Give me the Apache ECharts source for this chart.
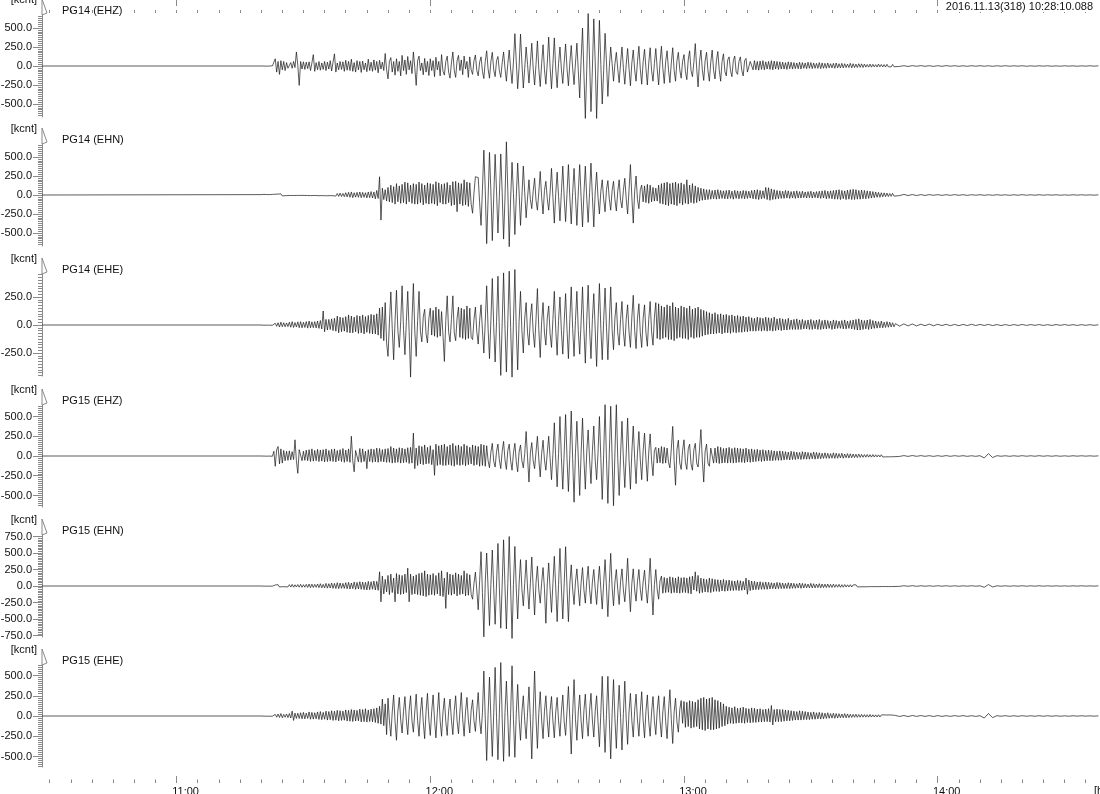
<!DOCTYPE html>
<html><head><meta charset="utf-8">
<script src="https://cdn.jsdelivr.net/npm/echarts@6/dist/echarts.min.js"></script>
<style>html,body{margin:0;padding:0;background:#fff}#c{width:1100px;height:794px}</style>
</head><body><div id="c"></div>
<script>
// ---------------- DATA ----------------
const stationNames = ['PG14 (EHZ)','PG14 (EHN)','PG14 (EHE)','PG15 (EHZ)','PG15 (EHN)','PG15 (EHE)'];
const headerText = '2016.11.13(318) 10:28:10.088';
const unitLabel = '[kcnt]';
const timeAxisName = '[hh:mm]';
const startTime = 37690.088;      // 10:28:10.088, seconds of day
const activeStart = 40800;        // 11:20:00
const activeStep = 20;            // s
const tailStart = 49800;          // 13:50:00
const tailStep = 60;              // s
const hourTicks = [39600, 43200, 46800, 50400];   // 11:00 .. 14:00
const yHalfRange = [671, 671, 455, 646, 773, 630];
const yLabels = [
  [-500,-250,0,250,500],
  [-500,-250,0,250,500],
  [-250,0,250],
  [-500,-250,0,250,500],
  [-750,-500,-250,0,250,500,750],
  [-500,-250,0,250,500]
];

// PG14 (EHZ)
const pg14zActive = [
 0,1,-1,2,-2,1,0,-1,2,3,
 95,-80,60,-110,70,-50,60,-60,45,-30,
 -40,45,-30,60,-20,185,10,-255,60,-40,
 55,-45,50,-35,55,-60,40,150,-70,45,
 -50,60,-55,40,-45,60,-60,50,-40,70,
 -65,50,160,-80,40,-50,60,-45,55,-70,
 75,-55,60,-60,90,-70,45,-80,70,-50,
 60,-85,65,-50,40,-75,90,-60,50,-70,
 80,-55,60,-90,75,-40,50,-60,165,-50,
 -170,60,110,-80,60,-120,95,-70,60,-130,
 140,-60,80,-110,125,-50,70,-100,185,-20,
 -255,70,130,-60,40,-115,100,-80,60,-125,
 95,-60,70,-140,115,-50,60,-130,150,-70,
 -120,60,130,-80,-160,40,185,-60,-150,70,
 140,-60,80,-115,130,-40,60,-150,120,-50,
 -110,70,145,-60,-130,50,120,-70,-165,60,
 200,-40,-160,60,180,-50,-140,70,125,-60,
 -150,40,185,-30,-200,30,210,-40,-230,50,
 425,60,-300,-20,420,40,-290,-30,250,20,
 -225,40,300,-30,-250,20,330,-40,-270,30,
 280,-50,-240,40,380,-20,-300,30,370,-40,
 -285,30,250,-40,-230,50,290,-30,-260,40,
 270,-30,-245,40,300,-60,-420,80,500,-100,
 -690,-50,690,80,-600,-40,620,60,-690,-30,
 600,20,-500,-60,430,50,-400,-20,250,30,
 -200,30,180,-40,-220,40,250,-30,-240,20,
 230,-30,-260,40,210,-50,-200,60,260,-40,
 -240,50,220,-30,-250,40,240,-60,-200,30,
 230,-40,-250,50,260,-30,-230,60,200,-50,
 -220,40,240,-60,-200,70,180,-50,-160,60,
 150,-70,-180,80,200,-60,-140,50,295,-30,
 -275,60,210,-50,-190,70,180,-60,-200,50,
 210,-60,-170,70,190,-50,-200,60,160,-70,
 -130,80,120,-60,-140,70,130,-80,-110,60,
 120,-60,-130,70,100,-80,-90,60,80,-50,
 70,-50,60,-55,65,-45,70,-50,55,-40,
 60,-45,70,-50,65,-40,60,-45,55,-40,
 50,-40,45,-45,55,-35,50,-40,45,-35,
 40,-35,50,-40,45,-30,40,-35,50,-30,
 45,-35,40,-30,35,-30,45,-35,40,-30,
 35,-30,40,-25,30,-25,35,-30,40,-25,
 30,-25,35,-25,30,-20,25,-20,35,-25,
 30,-20,25,-20,30,-18,28,-20,25,-15,
 20,-15,25,-15,22,-12,18,-14,25,-12,
 20,-12,18,-14,22,-10,15,-12,20,-10];
const pg14zTail = [6,-5,4,-6,5,-4,5,-4,4,-5, 4,-4,5,-3,4,-4,3,-4,4,-3, 4,-3,3,-4,3,-3,4,-3,3,-2,
 3,-3,2,-3,3,-2,3,-3,2,-3, 3,-2,2,-3,2,-2,3,-2,2];

// PG14 (EHN)
const pg14nActive = [
 5,-6,8,-4,6,-7,5,-5,8,-6,
 10,-8,12,-10,15,-12,10,-9,8,-7,
 8,-6,6,-7,7,-5,9,-6,6,-5,
 7,-6,8,-7,6,-8,9,-6,8,-7,
 7,-9,10,-8,8,-9,9,-10,10,-8,
 12,-10,15,-14,20,-18,25,-20,20,-22,
 30,-25,35,-30,40,-35,30,-28,35,-30,
 40,-35,35,-30,30,-38,40,-35,45,-40,
 40,-50,60,-45,240,-330,90,-60,70,-80,
 100,-90,130,-100,110,-120,150,-90,120,-110,
 140,-100,170,-120,160,-90,130,-110,150,-120,
 140,-120,170,-100,150,-130,130,-110,160,-120,
 150,-110,140,-120,175,-140,160,-100,140,-120,
 150,-120,165,-100,130,-140,175,-130,180,-220,
 160,-120,150,-140,200,-130,170,-150,160,-120,
 -240,30,240,235,230,-100,-400,80,590,60,
 -640,-50,560,40,-600,-30,535,50,-500,-20,
 540,30,-580,-40,700,60,-680,-50,430,20,
 -520,-30,420,40,-400,-20,380,30,-300,-40,
 200,-60,-180,50,220,-70,-200,40,310,-30,
 -250,60,180,-50,-200,40,350,-30,-370,20,
 300,-20,-340,30,380,-40,-350,20,400,-30,
 -380,30,350,-20,-400,40,400,-30,-420,20,
 380,-40,-360,30,420,-20,-420,40,300,-30,
 -250,50,200,-60,-220,70,190,-50,-200,60,
 180,-60,-210,50,200,-70,-170,60,220,-50,
 -250,60,400,-30,-370,50,250,-60,-180,70,
 130,-90,120,-100,140,-110,130,-90,100,-80,
 90,-80,130,-110,150,-120,160,-130,170,-140,
 150,-120,160,-130,170,-140,150,-110,160,-130,
 140,-110,200,-120,130,-100,150,-110,120,-100,
 100,-80,90,-70,80,-65,70,-60,70,-55,
 60,-50,65,-55,70,-50,60,-45,55,-50,
 60,-50,65,-45,50,-55,60,-45,55,-50,
 50,-45,60,-50,55,-45,50,-40,60,-50,
 65,-55,70,-60,60,-50,55,-45,100,-60,
 95,-70,80,-60,70,-55,60,-50,55,-45,
 50,-45,60,-40,55,-45,45,-40,50,-45,
 55,-40,45,-40,50,-35,40,-40,45,-35,
 50,-40,40,-35,45,-40,50,-45,55,-40,
 60,-50,50,-45,55,-50,60,-55,65,-55,
 70,-60,60,-50,55,-60,65,-55,70,-60,
 75,-60,70,-55,60,-55,65,-50,60,-50,
 55,-45,50,-40,45,-35,40,-30,35,-30,
 30,-25,28,-22,25,-20,20,-18,22,-15];
const pg14nTail = [9,-8,8,-7,6,-7,5,-6,5,-4, 5,-5,4,-4,5,-4,4,-5,4,-3, 4,-4,3,-4,4,-3,3,-4,3,-3,
 4,-3,3,-3,4,-3,3,-2,3,-3, 2,-3,3,-2,3,-2,2,-2,2];

// PG14 (EHE)
const pg14eActive = [
 0,1,-2,2,-1,3,-2,1,-2,2,
 15,-12,20,-18,25,-15,20,-16,18,-14,
 25,-20,30,-22,22,-18,28,-24,30,-25,
 25,-22,30,-28,35,-25,28,-24,30,-26,
 35,-30,40,-35,125,-60,50,-45,50,-40,
 55,-50,60,-55,80,-70,70,-60,65,-55,
 75,-65,90,-70,80,-70,70,-60,85,-75,
 80,-70,90,-80,75,-65,85,-75,95,-80,
 90,-80,100,-90,150,-120,160,-140,200,-160,
 -280,20,295,-30,-310,40,310,-50,-200,30,
 350,-40,-265,30,300,-60,-465,40,370,-50,
 -280,40,300,-60,-150,70,140,-80,-160,60,
 150,-90,130,-100,160,-110,140,-100,120,-90,
 -325,40,260,-60,-150,50,260,-70,-140,60,
 160,-110,150,-120,140,-130,170,-120,150,-110,
 -130,50,160,-60,-170,40,180,-50,-250,30,
 350,-30,-300,40,415,-20,-330,30,435,-40,
 -450,20,465,-30,-420,40,480,-20,-465,30,
 495,-40,-400,30,300,-50,-250,60,200,-70,
 -180,70,190,-60,-200,50,325,-40,-290,30,
 200,-70,-180,60,170,-80,-200,50,300,-40,
 -270,40,250,-50,-260,30,280,-40,-300,50,
 340,-30,-280,40,300,-50,-260,30,340,-40,
 -340,40,355,-30,-300,50,280,-40,-370,30,
 370,-30,-310,40,330,-20,-310,30,340,-40,
 -220,60,200,-70,-180,50,210,-60,-190,50,
 180,-60,-200,70,265,-50,-210,60,190,-70,
 -200,60,180,-70,-190,50,210,-60,-180,70,
 200,-120,190,-130,170,-120,160,-110,180,-130,
 170,-130,200,-140,160,-120,150,-110,170,-120,
 160,-120,150,-130,170,-110,140,-120,150,-110,
 160,-110,140,-100,130,-90,120,-85,110,-80,
 100,-80,110,-75,95,-70,100,-80,90,-70,
 95,-70,85,-75,90,-65,80,-70,85,-65,
 75,-65,80,-60,70,-60,75,-55,65,-55,
 60,-55,70,-50,65,-55,60,-50,70,-55,
 65,-50,60,-55,70,-50,55,-45,60,-50,
 55,-45,50,-45,60,-40,45,-40,50,-40,
 55,-40,45,-40,50,-35,40,-35,45,-40,
 50,-40,40,-35,45,-40,50,-40,40,-35,
 45,-35,40,-30,35,-40,45,-35,40,-30,
 35,-30,40,-35,45,-35,35,-30,40,-35,
 45,-40,50,-45,55,-45,45,-40,40,-35,
 45,-40,50,-35,40,-30,35,-28,30,-25,
 35,-25,25,-22,30,-20,25,-18,20,-16];
const pg14eTail = [12,-10,10,-8,9,-8,7,-6,8,-7, 6,-5,6,-6,5,-6,5,-5,6,-5, 5,-4,5,-5,4,-5,4,-5,4,-4,
 5,-4,4,-3,4,-4,3,-4,4,-3, 4,-3,3,-4,3,-3,3,-3,2];

// PG15 (EHZ)
const pg15zActive = [
 0,2,-1,3,-2,2,-1,2,-3,60,
 -130,80,120,-100,90,-90,70,-60,60,-55,
 65,-50,55,-45,205,-60,-220,80,70,-60,
 60,-55,75,-60,80,-70,90,-65,70,-60,
 85,-70,75,-65,80,-75,90,-70,70,-65,
 85,-70,90,-75,70,-60,80,-70,95,-80,
 75,-70,90,-80,250,-60,-200,70,85,-75,
 95,-80,90,-70,60,-160,80,-70,90,-80,
 85,-75,100,-80,95,-70,80,-75,90,-80,
 95,-80,120,-90,100,-85,90,-80,105,-90,
 100,-85,90,-80,105,-95,110,-90,290,-160,
 100,-120,130,-100,120,-110,140,-100,110,-95,
 130,-110,80,-245,150,-120,130,-110,140,-120,
 150,-120,120,-110,140,-120,160,-130,130,-110,
 140,-120,120,-110,150,-125,130,-110,110,-100,
 140,-120,130,-110,120,-130,150,-120,140,-130,
 130,-60,-150,50,160,-70,-140,60,150,-50,
 -160,60,185,-50,-170,70,150,-60,-180,40,
 160,-70,-200,50,140,-60,-150,30,310,-20,
 -330,40,170,-60,-160,50,250,-40,-265,30,
 200,-50,-180,40,250,-30,-300,20,420,-40,
 -390,30,500,-20,-420,40,525,-30,-450,20,
 570,-30,-585,40,440,-20,-500,30,480,-40,
 -420,50,330,-40,-350,60,380,-50,-300,40,
 500,-30,-550,20,650,-40,-600,30,630,-20,
 -630,40,650,-30,-500,20,440,-40,-400,30,
 480,-40,-420,50,380,-30,-350,40,310,-50,
 -300,60,290,-40,-320,50,280,-60,-250,70,
 110,-90,100,-85,120,-95,110,-90,100,-80,
 -150,90,375,-60,-370,80,200,-90,-170,70,
 205,-80,-170,90,150,-100,-180,80,160,-90,
 -140,80,335,-50,-330,60,150,-90,-130,100,
 110,-90,100,-85,120,-95,110,-90,95,-85,
 100,-90,110,-85,95,-90,105,-85,100,-80,
 95,-80,90,-85,100,-75,85,-80,90,-75,
 80,-70,85,-65,75,-70,80,-65,70,-60,
 75,-60,70,-60,65,-55,60,-55,65,-55,
 60,-50,55,-45,50,-50,60,-45,55,-45,
 50,-40,45,-45,55,-40,50,-40,45,-40,
 40,-35,50,-40,45,-35,40,-35,35,-30,
 40,-30,35,-30,30,-28,40,-30,35,-28,
 30,-25,35,-28,25,-22,30,-25,28,-22,
 25,-20,22,-20,25,-18,20,-16,18,-15,
 20,-15,16,-14,18,-13,15,-12,14,-12,
 16,-12,12,-11,14,-10,13,-10,11,-9];
const pg15zTail = [6,-5,5,-5,6,-4,5,-4,4,-5, 4,-4,5,-4,4,-3,4,-4,3,-4, 4,-25,30,-20,4,-3,3,-4,3,-3,
 4,-3,3,-3,4,-3,3,-3,3,-3, 2,-3,3,-2,3,-2,2,-2,2];

// PG15 (EHN)
const pg15nActive = [
 0,2,-2,3,-3,2,-2,2,-2,3,
 15,-12,20,-15,12,-10,15,-12,18,-14,
 20,-16,25,-18,18,-15,22,-18,25,-20,
 20,-18,25,-22,30,-25,28,-22,25,-20,
 30,-25,35,-28,25,-30,40,-32,35,-30,
 45,-35,40,-38,50,-40,45,-35,40,-36,
 50,-42,55,-45,45,-40,60,-50,55,-45,
 65,-50,60,-55,55,-60,70,-55,65,-50,
 75,-60,70,-65,215,-240,150,-120,100,-90,
 160,-130,180,-100,120,-240,190,-120,170,-130,
 160,-120,180,-100,270,-240,180,-130,150,-120,
 170,-130,190,-140,200,-150,230,-160,180,-140,
 170,-130,190,-140,160,-120,200,-150,230,-160,
 120,-340,210,-130,180,-140,170,-120,200,-150,
 180,-130,160,-120,230,-150,190,-140,170,-130,
 -200,40,210,-60,-360,80,520,-100,-770,60,
 500,-30,-600,20,545,-40,-580,30,645,-20,
 -640,30,700,-20,-650,40,750,-30,-795,20,
 600,-40,-500,30,400,-50,-300,40,395,-30,
 -350,40,440,-30,-440,50,300,-60,-260,50,
 280,-40,-565,30,350,-50,-400,40,450,-30,
 -540,20,570,-30,-500,40,595,-20,-540,30,
 320,-50,-280,60,260,-40,-300,50,280,-60,
 -260,70,300,-50,-270,60,250,-40,-280,50,
 300,-40,-350,50,400,-30,-465,40,495,-20,
 -300,60,250,-50,-280,70,260,-60,-240,50,
 420,-30,-390,40,260,-60,-230,70,250,-50,
 -220,60,240,-50,-260,40,420,-30,-440,20,
 250,-60,-200,80,150,-110,130,-100,120,-95,
 140,-110,130,-100,120,-105,140,-110,125,-100,
 130,-100,120,-110,140,-120,150,-60,215,-80,
 160,-110,120,-100,110,-90,100,-95,120,-100,
 110,-85,100,-80,95,-85,90,-75,100,-80,
 85,-75,90,-70,80,-70,75,-65,85,-70,
 80,-65,70,-60,120,-125,90,-70,75,-60,
 70,-55,60,-55,65,-50,55,-50,60,-50,
 55,-45,50,-40,45,-45,55,-40,50,-40,
 45,-40,40,-38,50,-40,45,-35,40,-35,
 35,-30,45,-35,40,-30,35,-28,30,-28,
 40,-30,35,-28,30,-25,35,-28,30,-25,
 28,-24,30,-22,25,-22,28,-20,22,-18,
 25,-20,20,-18,22,-16,18,-15,20,-15,
 16,-14,18,-13,15,-13,16,-12,14,-12,
 12,-10,14,-10,11,-9,12,-9,10,-9,
 11,-8,9,-8,10,-9,11,-8,9,-8];
const pg15nTail = [5,-5,4,-4,5,-5,4,-4,3,-4, 4,-3,4,-4,3,-4,3,-3,4,-3, 3,-20,22,-15,3,-3,3,-4,3,-3,
 4,-3,3,-3,4,-3,3,-3,3,-3, 2,-3,3,-2,3,-2,2,-2,2];

// PG15 (EHE)
const pg15eActive = [
 0,2,-2,3,-2,2,-3,3,-2,3,
 20,-15,25,-18,30,-22,20,-16,25,-20,
 30,-25,60,-55,35,-30,35,-30,40,-35,
 45,-35,35,-30,50,-40,45,-38,40,-35,
 50,-42,55,-45,45,-40,60,-50,55,-45,
 65,-55,60,-52,70,-60,65,-55,60,-52,
 75,-62,70,-65,80,-68,75,-62,70,-60,
 85,-72,80,-70,90,-75,75,-68,85,-72,
 90,-80,100,-90,120,-100,210,-120,150,-230,
 220,-60,-250,50,260,-70,-300,60,230,-50,
 -210,60,240,-50,-230,70,250,-60,-200,50,
 270,-60,-250,50,230,-70,-280,60,280,-50,
 -240,60,260,-50,-270,40,290,-60,-250,50,
 220,-70,-240,60,210,-50,-230,70,250,-60,
 -220,50,290,-40,-250,60,230,-50,-210,70,
 200,-60,-190,70,290,-50,-220,40,555,-30,
 -550,20,480,-30,-500,40,600,-20,-540,30,
 660,-30,-560,40,430,-20,-500,30,620,-40,
 -510,30,390,-40,-300,50,250,-60,-280,40,
 360,-40,-530,30,555,-20,-400,40,300,-50,
 -280,60,250,-50,-260,70,240,-60,-270,50,
 230,-60,-250,50,260,-70,-240,60,365,-40,
 -470,30,450,-40,-300,50,260,-60,-280,70,
 270,-60,-250,70,280,-50,-260,60,250,-70,
 -380,40,490,-30,-450,20,490,-40,-530,30,
 450,-30,-400,40,380,-20,-420,30,430,-40,
 -350,50,280,-60,-260,70,270,-50,-250,60,
 300,-50,-270,60,260,-70,-250,50,240,-60,
 -230,70,250,-60,-260,50,240,-70,-280,60,
 325,-40,-340,50,220,-70,-200,80,190,-90,
 180,-140,170,-130,190,-150,180,-140,170,-130,
 200,-160,220,-170,230,-180,210,-160,220,-170,
 230,-170,200,-160,190,-150,170,-130,150,-120,
 120,-100,110,-90,100,-95,115,-90,95,-85,
 100,-85,110,-90,95,-80,90,-85,100,-80,
 95,-80,85,-75,90,-75,80,-70,85,-70,
 90,-75,130,-110,80,-70,85,-70,80,-70,
 80,-65,75,-60,70,-60,65,-55,60,-50,
 55,-50,65,-50,60,-45,55,-45,50,-45,
 45,-40,50,-40,40,-35,45,-38,40,-35,
 35,-30,40,-28,30,-26,35,-28,30,-25,
 28,-22,25,-22,30,-22,25,-20,22,-18,
 20,-16,22,-16,18,-15,20,-14,17,-14,
 16,-14,18,-13,15,-12,14,-12,16,-12,
 13,-11,14,-10,12,-10,13,-9,11,-9];
const pg15eTail = [7,-6,6,-7,6,-5,6,-5,5,-6, 5,-5,4,-5,5,-4,5,-5,4,-5, 4,-25,30,-20,4,-3,4,-4,3,-4,
 4,-3,3,-3,4,-3,3,-3,3,-3, 2,-3,3,-2,3,-2,2,-2,2];

const traceActive = [pg14zActive, pg14nActive, pg14eActive, pg15zActive, pg15nActive, pg15eActive];
const traceTail = [pg14zTail, pg14nTail, pg14eTail, pg15zTail, pg15nTail, pg15eTail];

// ---------------- LAYOUT ----------------
const FONT = "'Liberation Sans', Arial, Helvetica, sans-serif";
const LEFT = 42;
const pxPerSec = 253.7 / 3600;
const endTime = startTime + (1100 - LEFT) / pxPerSec;
const gridTops = [15, 144, 274, 405, 535, 665];
const gridH = 102;
const tickColor = '#8a8a8a';

function hhmm(v){
  const h = Math.floor(v/3600), m = Math.round((v - h*3600)/60);
  return String(h).padStart(2,'0') + ':' + String(m).padStart(2,'0');
}
const minorTimeTicks = [];
for (let t = Math.ceil(startTime/300)*300; t <= endTime; t += 300) minorTimeTicks.push(t);

function toData(active, tail){
  const d = [[startTime, 0]];
  active.forEach((v,i) => d.push([activeStart + i*activeStep, v]));
  tail.forEach((v,i) => d.push([tailStart + i*tailStep, v]));
  return d;
}

const grids = [], xAxes = [], yAxes = [], series = [], titles = [], graphics = [];

gridTops.forEach((top, p) => {
  grids.push({left: LEFT, right: 0, top: top, height: gridH, containLabel: false, outerBoundsMode: 'none'});
  xAxes.push({type:'value', gridIndex:p, min:startTime, max:endTime, show:false});
  const half = yHalfRange[p];
  const ladder = [];
  for (let v = -Math.floor(half/25)*25; v <= half; v += 25) ladder.push(v);
  yAxes.push({
    type:'value', gridIndex:p, position:'left', min:-half, max:half,
    name: unitLabel, nameLocation:'end', nameGap: 15,
    nameTextStyle:{color:'#111', fontFamily:FONT, fontSize:11, align:'right', verticalAlign:'middle', padding:[0,5,0,0]},
    axisLine:{show:true, lineStyle:{color:tickColor, width:1}},
    axisTick:{show:true, customValues: ladder, length:4, lineStyle:{color:tickColor, width:1}},
    axisLabel:{show:false}, splitLine:{show:false}
  });
  yAxes.push({
    type:'value', gridIndex:p, position:'left', offset:0, min:-half, max:half,
    axisLine:{show:false},
    axisTick:{show:true, customValues: yLabels[p], length:9, lineStyle:{color:tickColor, width:1}},
    axisLabel:{show:true, customValues: yLabels[p], margin:10, color:'#111', fontFamily:FONT, fontSize:11,
      formatter: v => Number(v).toFixed(1)},
    splitLine:{show:false}
  });
  series.push({
    type:'line', xAxisIndex:p, yAxisIndex:2*p, data: toData(traceActive[p], traceTail[p]),
    showSymbol:false, symbol:'none', clip:false, silent:true,
    lineStyle:{color:'#161616', width:0.7}
  });
  titles.push({text: stationNames[p], left: 57, top: top - 15,
    textStyle:{color:'#111', fontFamily:FONT, fontSize:11, fontWeight:'normal'}});
  graphics.push({type:'polyline', silent:true,
    shape:{points:[[LEFT, top], [LEFT, top-16], [LEFT+5, top-2], [LEFT, top]]},
    style:{stroke:tickColor, fill:null, lineWidth:1}});
});

// top hanging ticks
grids.push({left: LEFT, right: 0, top: 0, height: 10, outerBoundsMode: 'none'});
xAxes.push({type:'value', gridIndex:6, position:'top', min:startTime, max:endTime,
  axisLine:{show:false}, axisLabel:{show:false}, splitLine:{show:false},
  axisTick:{show:true, inside:true, customValues:minorTimeTicks, length:3, lineStyle:{color:tickColor}}});
xAxes.push({type:'value', gridIndex:6, position:'top', min:startTime, max:endTime,
  axisLine:{show:false}, axisLabel:{show:false}, splitLine:{show:false},
  axisTick:{show:true, inside:true, customValues:hourTicks, length:6, lineStyle:{color:tickColor}}});
yAxes.push({type:'value', gridIndex:6, show:false});

// bottom time axis
grids.push({left: LEFT, right: 0, top: 770, height: 13, outerBoundsMode: 'none'});
xAxes.push({type:'value', gridIndex:7, position:'bottom', min:startTime, max:endTime,
  axisLine:{show:false}, axisLabel:{show:false}, splitLine:{show:false},
  axisTick:{show:true, inside:true, customValues:minorTimeTicks, length:3.5, lineStyle:{color:tickColor}}});
xAxes.push({type:'value', gridIndex:7, position:'bottom', min:startTime, max:endTime,
  axisLine:{show:false}, splitLine:{show:false},
  axisTick:{show:true, inside:true, customValues:hourTicks, length:7, lineStyle:{color:tickColor}},
  axisLabel:{show:true, customValues:hourTicks, margin:3, color:'#111', fontFamily:FONT, fontSize:11,
    padding:[0,0,0,18], formatter: v => hhmm(v)}});
yAxes.push({type:'value', gridIndex:7, show:false});

titles.push({text: headerText, right: 7, top: 1, backgroundColor:'#ffffff', padding:[0,0,0,3],
  textStyle:{color:'#111', fontFamily:FONT, fontSize:11, fontWeight:'normal'}});
graphics.push({type:'text', left: 1094, top: 785, silent:true,
  style:{text: timeAxisName, fill:'#111', font: '11px ' + FONT}});

const chart = echarts.init(document.getElementById('c'), null, {renderer:'canvas'});
chart.setOption({
  animation:false,
  backgroundColor:'#ffffff',
  title: titles,
  grid: grids,
  xAxis: xAxes,
  yAxis: yAxes,
  series: series,
  graphic: graphics
});
</script>
</body></html>
